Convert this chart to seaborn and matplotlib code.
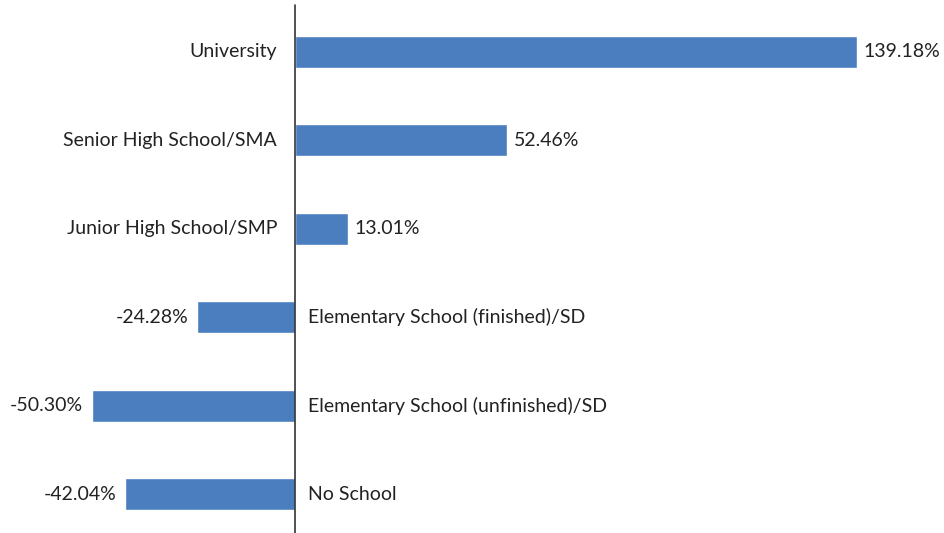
import matplotlib
matplotlib.use("Agg")
import matplotlib.pyplot as plt
import seaborn as sns
import pandas as pd

categories = ["University", "Senior High School/SMA", "Junior High School/SMP",
              "Elementary School (finished)/SD", "Elementary School (unfinished)/SD", "No School"]
values = [139.18, 52.46, 13.01, -24.28, -50.30, -42.04]
value_labels = ["139.18%", "52.46%", "13.01%", "-24.28%", "-50.30%", "-42.04%"]

sns.set_theme(style="white")
plt.rcParams['font.family'] = ['Lato', 'DejaVu Sans']

df = pd.DataFrame({"category": categories, "value": values})

fig = plt.figure(figsize=(9.45, 5.33), dpi=100)
ax = fig.add_axes([0, 0, 1, 1])
sns.barplot(data=df, y="category", x="value", orient="h", color="#4a7ebf",
            saturation=1, width=0.362, ax=ax)

ax.set_xlim(-73.06, 160.97)
ax.set_ylim(5.44, -0.588)
ax.axvline(0, ymin=0, ymax=0.99, color="#333333", linewidth=1.2)
for s in ax.spines.values():
    s.set_visible(False)
ax.set_xticks([])
ax.set_yticks([])
ax.set_xlabel("")
ax.set_ylabel("")

fs = 14
tc = "#222222"
for i, (cat, v, lab) in enumerate(zip(categories, values, value_labels)):
    if v >= 0:
        ax.text(-4.4, i, cat, ha="right", va="center", fontsize=fs, color=tc)
        ax.text(v + 1.7, i, lab, ha="left", va="center", fontsize=fs, color=tc)
    else:
        ax.text(3.1, i, cat, ha="left", va="center", fontsize=fs, color=tc)
        ax.text(v - 2.2, i, lab, ha="right", va="center", fontsize=fs, color=tc)

fig.savefig("out.png", dpi=100)
